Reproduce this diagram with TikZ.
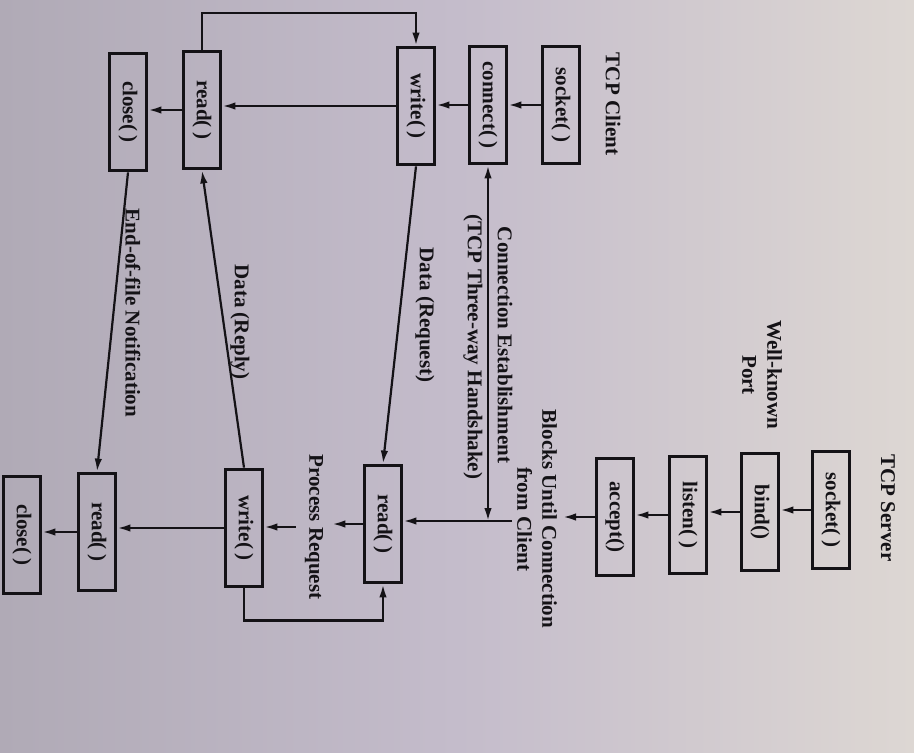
\documentclass[tikz,border=0pt]{standalone}
\usepackage{fontspec}
\setmainfont{Liberation Serif}
\usetikzlibrary{arrows.meta,calc}
\definecolor{ink}{HTML}{141216}
\definecolor{paperL}{HTML}{B0AAB6}
\definecolor{paperM}{HTML}{C4BCCB}
\definecolor{paperR}{HTML}{DDD7D3}
\newcommand{\pargap}{(\kern0.22em)}
\begin{document}
\begin{tikzpicture}[x=1pt,y=-1pt,
  every node/.style={font=\bfseries\fontsize{21}{25}\selectfont, text=ink},
  call/.style={draw=ink, line width=3.8pt, rotate=-90, minimum width=117pt,
    minimum height=37pt, inner sep=0pt},
  lbl/.style={rotate=-90, align=center, inner sep=1pt},
  flow/.style={draw=ink, line width=2.2pt, -{Latex[length=13pt,width=7.5pt]}},
  twoway/.style={draw=ink, line width=2.2pt,
    {Latex[length=13pt,width=7.5pt]}-{Latex[length=13pt,width=7.5pt]}}
]
% paper
\useasboundingbox (0,0) rectangle (914,753);
\shade[left color=paperL, right color=paperR, middle color=paperM]
  (0,0) rectangle (914,753);

% ---- client side ----
\node[lbl] (clienthead) at (613,104) {TCP Client};
\node[call] (cs)  at (561,105) {socket\pargap};
\node[call] (cc)  at (488,105) {connect\pargap};
\node[call] (cw)  at (416,106) {write\pargap};
\node[call] (cr)  at (202,110) {read\pargap};
\node[call] (ccl) at (128,112) {close\pargap};

% ---- server side ----
\node[lbl] (serverhead) at (888,508) {TCP Server};
\node[call] (ss)  at (831,510) {socket\pargap};
\node[call] (sb)  at (760,512) {bind()};
\node[call] (sl)  at (688,515) {listen\pargap};
\node[call] (sa)  at (615,517) {accept()};
\node[call] (sr)  at (383,524) {read\pargap};
\node[call] (sw)  at (244,528) {write\pargap};
\node[call] (sr2) at (97,532)  {read\pargap};
\node[call] (scl) at (22,535)  {close\pargap};

% ---- labels ----
\node[lbl] (port) at (762,375) {Well-known\\Port};
\node[lbl] (blocks) at (537,519) {Blocks Until Connection\\from Client};
\node[lbl] (conn1) at (505,345) {Connection Establishment};
\node[lbl] (conn2) at (473,347) {(TCP Three-way Handshake)};
\node[lbl] (dreq) at (425,315) {Data (Request)};
\node[lbl] (drep) at (240,322) {Data (Reply)};
\node[lbl] (eof)  at (133,313) {End-of-file Notification};
\node[lbl, inner ysep=9pt] (proc) at (314,527) {Process Request};

% ---- client flow ----
\draw[flow] (cs.south) -- (cs.south -| cc.north);
\draw[flow] (cc.south) -- (cc.south -| cw.north);
\draw[flow] (cw.south) -- (cw.south -| cr.north);
\draw[flow] (cr.south) -- (cr.south -| ccl.north);
\draw[flow] (cr.west) -- ++(0,-37) -| (cw.west);

% ---- server flow ----
\draw[flow] (ss.south) -- (ss.south -| sb.north);
\draw[flow] (sb.south) -- (sb.south -| sl.north);
\draw[flow] (sl.south) -- (sl.south -| sa.north);
\coordinate (acceptend) at (563,518);
\draw[flow] (sa.south) -- (sa.south -| acceptend);
\coordinate (join) at (512,521);
\coordinate (hsend) at (491,521);
\draw[flow] (join) -- (join -| sr.north);
\draw[twoway] (cc.east) -- (cc.east |- hsend);
\draw[flow] (sr.south) -- (sr.south -| proc.north);
\draw[flow] (proc.south) -- (proc.south -| sw.north);
\draw[flow] (sw.east) -- ++(0,32) -| (sr.east);
\draw[flow] (sw.south) -- (sw.south -| sr2.north);
\draw[flow] (sr2.south) -- (sr2.south -| scl.north);

% ---- exchanges between client and server ----
\draw[flow] (cw.east) -- (sr.west);
\draw[flow] (sw.west) -- (cr.east);
\draw[flow] (ccl.east) -- (sr2.west);
\end{tikzpicture}
\end{document}
